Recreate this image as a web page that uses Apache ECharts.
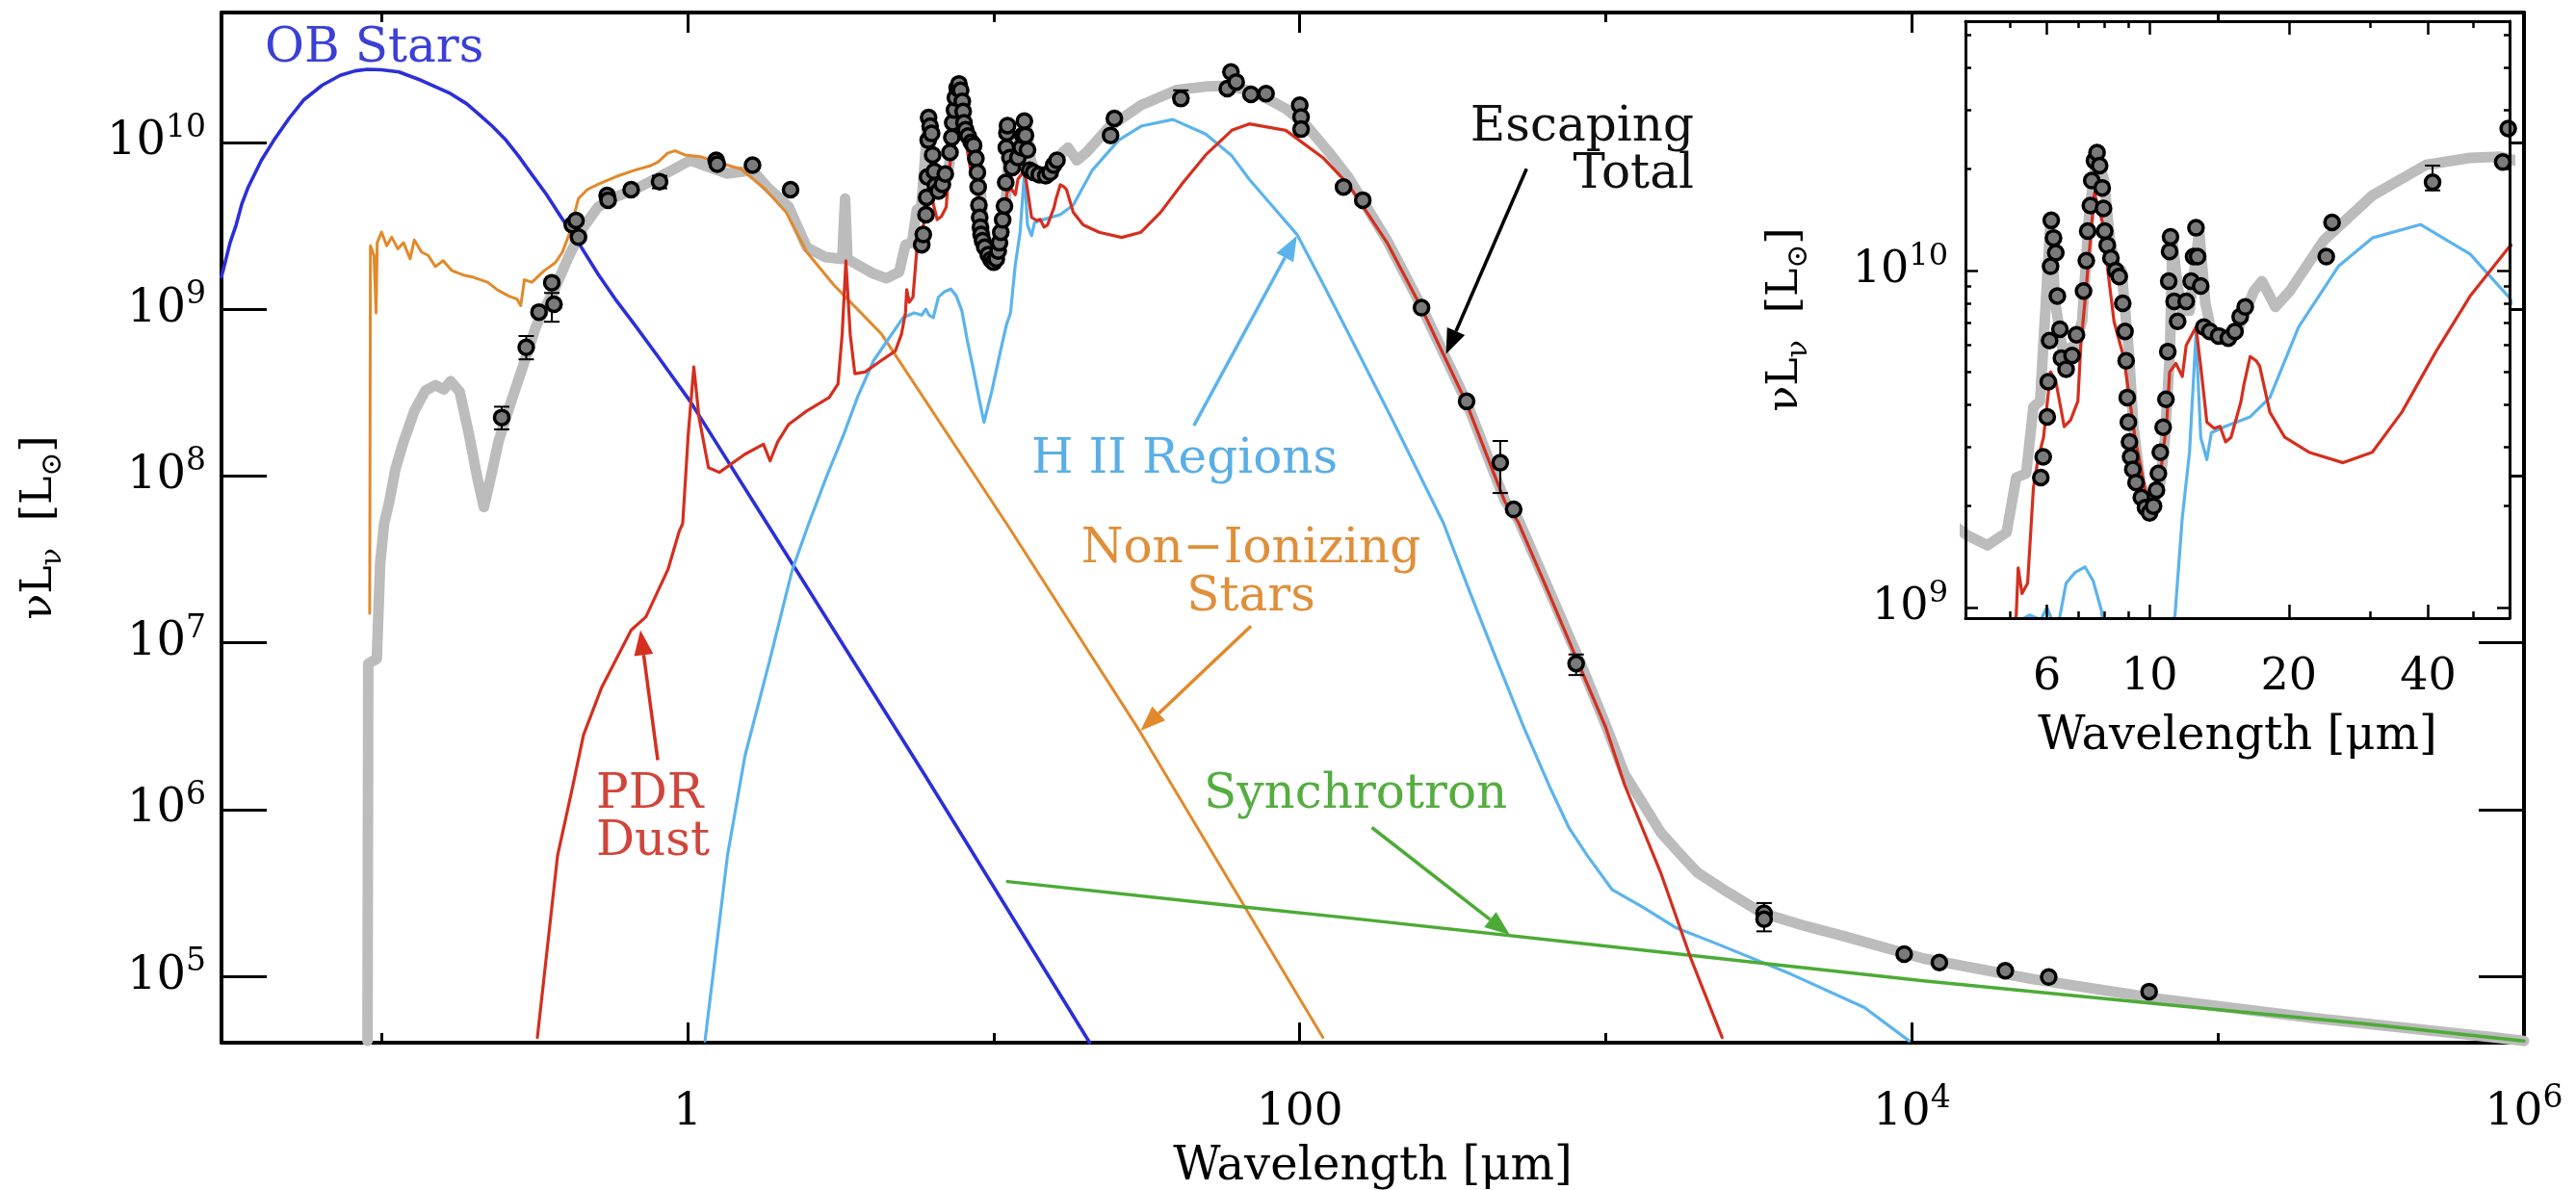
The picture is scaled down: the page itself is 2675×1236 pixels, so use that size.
<!DOCTYPE html>
<html>
<head>
<meta charset="utf-8">
<script src="https://cdn.jsdelivr.net/npm/echarts@6/dist/echarts.min.js"></script>
<style>
  html, body { margin: 0; padding: 0; background: #fff; }
  #chart { width: 2675px; height: 1236px; }
</style>
</head>
<body>
<div id="chart"></div>
<script>
// Spectral energy distribution: wavelength in micron, nu*L_nu in solar luminosities.

const obStars = [
  [0.030, 1.56e9], [0.032, 2.5e9], [0.0335, 3.2e9], [0.035, 4.3e9], [0.0367, 5.4e9],
  [0.0405, 7.8e9], [0.0445, 1.03e10], [0.050, 1.4e10], [0.0556, 1.79e10], [0.064, 2.2e10],
  [0.0733, 2.52e10], [0.082, 2.68e10], [0.090, 2.74e10], [0.100, 2.72e10], [0.114, 2.64e10],
  [0.135, 2.35e10], [0.150, 2.15e10], [0.168, 1.96e10], [0.19, 1.7e10], [0.21, 1.45e10],
  [0.23, 1.25e10], [0.255, 1.03e10], [0.28, 8.3e9], [0.31, 6.4e9], [0.345, 4.9e9],
  [0.386, 3.56e9], [0.44, 2.5e9], [0.51, 1.62e9], [0.58, 1.15e9], [0.67, 8.1e8],
  [0.80, 5.2e8], [1.02, 2.8e8], [1.866, 4.8e7], [5.97, 1.6e6], [20.6, 4.0e4]
];

const nonIonizing = [
  [0.0915, 1.5e7], [0.0920, 2.4e9], [0.0945, 2.1e9], [0.0960, 9.5e8], [0.0968, 2.5e9],
  [0.100, 2.9e9], [0.104, 2.4e9], [0.108, 2.7e9], [0.113, 2.3e9], [0.118, 2.5e9],
  [0.124, 2.0e9], [0.128, 2.6e9], [0.135, 2.2e9], [0.142, 2.1e9], [0.150, 1.8e9],
  [0.159, 1.95e9], [0.170, 1.7e9], [0.185, 1.6e9], [0.200, 1.55e9], [0.222, 1.45e9],
  [0.240, 1.3e9], [0.260, 1.2e9], [0.277, 1.15e9], [0.285, 1.05e9], [0.293, 1.5e9],
  [0.310, 1.45e9], [0.340, 1.7e9], [0.370, 1.9e9], [0.390, 2.2e9], [0.410, 2.8e9],
  [0.440, 4.6e9], [0.470, 5.2e9], [0.510, 5.6e9], [0.580, 6.2e9], [0.670, 6.8e9],
  [0.750, 7.2e9], [0.800, 7.6e9], [0.860, 8.6e9], [0.910, 8.9e9], [0.980, 8.4e9],
  [1.10, 8.2e9], [1.25, 7.6e9], [1.50, 6.9e9], [1.80, 5.2e9], [2.10, 3.8e9],
  [2.45, 2.2e9], [3.0, 1.4e9], [4.3, 7.1e8], [11.0, 5.2e7], [30.0, 2.95e6], [119, 4.3e4]
];

const escapingTotal = [
  [0.090, 4.1e4], [0.0905, 7.5e6], [0.0965, 8.0e6], [0.099, 3.0e7], [0.102, 5.2e7],
  [0.106, 7.0e7], [0.111, 1.1e8], [0.118, 1.6e8], [0.128, 2.45e8], [0.139, 3.24e8],
  [0.150, 3.5e8], [0.160, 3.3e8], [0.168, 3.7e8], [0.180, 3.2e8], [0.193, 1.78e8],
  [0.205, 1.0e8], [0.216, 6.5e7], [0.228, 1.0e8], [0.241, 1.6e8], [0.260, 2.5e8],
  [0.277, 3.55e8], [0.300, 5.5e8], [0.319, 7.8e8], [0.340, 1.0e9], [0.366, 1.29e9],
  [0.408, 2.05e9], [0.457, 3.1e9], [0.510, 4.1e9], [0.580, 4.7e9], [0.670, 5.2e9],
  [0.888, 6.8e9], [1.02, 7.8e9], [1.15, 7.2e9], [1.35, 6.5e9], [1.63, 6.8e9],
  [1.82, 5.4e9], [2.14, 4.1e9], [2.45, 2.35e9], [2.82, 2.05e9], [3.20, 2.0e9],
  [3.27, 4.6e9], [3.33, 2.0e9], [3.72, 1.78e9], [4.03, 1.64e9], [4.46, 1.53e9],
  [4.91, 1.67e9], [5.15, 2.43e9], [5.41, 2.5e9], [5.61, 3.94e9], [5.80, 4.1e9],
  [6.11, 1.41e10], [6.25, 8.1e9], [6.49, 5.75e9], [6.90, 6.0e9], [7.15, 7.1e9],
  [7.41, 1.5e10], [7.69, 2.2e10], [7.97, 1.86e10], [8.20, 1.25e10], [8.47, 1.0e10],
  [8.70, 1.0e10], [9.02, 5.75e9], [9.23, 3.44e9], [9.56, 2.35e9], [10.05, 1.91e9],
  [10.55, 2.35e9], [10.8, 3.2e9], [11.07, 5.75e9], [11.2, 1.23e10], [11.5, 9.0e9],
  [11.77, 7.6e9], [12.2, 7.6e9], [12.8, 1.31e10], [13.2, 8.0e9], [13.6, 6.6e9],
  [15.3, 6.4e9], [16.3, 7.8e9], [16.8, 8.7e9], [17.5, 9.3e9], [18.7, 7.8e9],
  [20.1, 8.7e9], [23.8, 1.23e10], [30.3, 1.67e10], [39.6, 2.06e10], [49.3, 2.16e10],
  [57, 2.18e10], [68.4, 2.05e10], [78.5, 1.82e10], [90, 1.59e10], [104, 1.29e10],
  [126, 8.5e9], [144, 6.2e9], [193, 2.58e9], [251, 1.02e9], [350, 2.8e8],
  [468, 7.1e7], [517, 5.5e7], [650, 2.1e7], [828, 7.5e6], [1000, 3.2e6],
  [1153, 1.62e6], [1300, 1.14e6], [1510, 7.3e5], [1750, 5.4e5], [1990, 4.2e5],
  [2500, 3.2e5], [3240, 2.4e5], [4500, 2.0e5], [6000, 1.74e5], [10900, 1.28e5],
  [25000, 9.6e4], [65200, 7.3e4], [2.1e5, 5.6e4], [8.0e5, 4.3e4], [1.0e6, 4.1e4]
];

const pdrDust = [
  [0.323, 4.3e4], [0.376, 5.3e5], [0.42, 1.34e6], [0.457, 2.8e6], [0.524, 5.4e6],
  [0.654, 1.19e7], [0.731, 1.43e7], [0.863, 2.75e7], [0.937, 4.6e7], [0.964, 5.2e7],
  [1.005, 1.78e8], [1.048, 4.5e8], [1.09, 2.24e8], [1.17, 1.12e8], [1.27, 1.05e8],
  [1.54, 1.35e8], [1.77, 1.55e8], [1.86, 1.23e8], [1.97, 1.6e8], [2.14, 2.04e8],
  [2.45, 2.45e8], [2.9, 2.95e8], [3.1, 3.55e8], [3.2, 7.1e8], [3.29, 1.95e9],
  [3.4, 7.0e8], [3.52, 4.1e8], [3.8, 4.2e8], [4.28, 4.9e8], [4.77, 5.6e8],
  [5.0, 7.1e8], [5.15, 9.5e8], [5.2, 1.31e9], [5.3, 1.1e9], [5.45, 1.18e9],
  [5.61, 2.27e9], [5.74, 2.76e9], [5.9, 3.2e9], [6.11, 5.0e9], [6.27, 4.7e9],
  [6.54, 3.44e9], [6.75, 3.6e9], [7.0, 4.1e9], [7.1, 5.96e9], [7.3, 9.0e9],
  [7.6, 1.7e10], [7.9, 1.4e10], [8.2, 9.0e9], [8.38, 7.06e9], [8.8, 5.5e9],
  [9.3, 3.2e9], [9.8, 2.2e9], [10.2, 2.12e9], [10.6, 2.6e9], [10.9, 3.6e9],
  [11.05, 5.0e9], [11.4, 5.3e9], [11.77, 4.85e9], [12.0, 6.0e9], [12.6, 6.8e9],
  [12.9, 5.2e9], [13.3, 3.55e9], [13.8, 3.4e9], [14.2, 3.45e9], [14.6, 3.1e9],
  [15.0, 3.2e9], [15.75, 4.07e9], [16.0, 4.6e9], [16.5, 5.56e9], [17.0, 5.4e9],
  [17.3, 5.2e9], [18.2, 3.8e9], [19.6, 3.2e9], [22.1, 2.89e9], [26.2, 2.69e9],
  [30.3, 2.89e9], [35.1, 3.8e9], [41.6, 5.75e9], [49.3, 8.4e9], [60, 1.18e10],
  [68.4, 1.29e10], [90, 1.18e10], [119, 8.1e9], [144, 5.6e9], [193, 2.5e9],
  [251, 1.0e9], [350, 2.75e8], [468, 7.0e7], [517, 5.3e7], [650, 2.0e7],
  [828, 7.0e6], [1000, 3.1e6], [1153, 1.4e6], [1510, 4.2e5], [1890, 1.3e5], [2400, 4.3e4]
];

const hiiRegions = [
  [1.14, 4.1e4], [1.35, 5.3e5], [1.54, 2.1e6], [1.86, 8.0e6], [2.2, 2.75e7],
  [2.49, 5.2e7], [2.85, 1.0e8], [3.24, 1.78e8], [3.6, 3.0e8], [4.05, 4.9e8],
  [4.5, 6.5e8], [5.06, 8.9e8], [5.5, 9.5e8], [5.82, 9.2e8], [6.0, 1.0e9],
  [6.15, 9.2e8], [6.35, 8.9e8], [6.6, 1.18e9], [6.9, 1.27e9], [7.25, 1.32e9],
  [7.55, 1.2e9], [7.87, 9.8e8], [8.2, 6.5e8], [8.55, 4.5e8], [9.0, 2.8e8],
  [9.3, 2.1e8], [9.85, 3.2e8], [10.5, 5.5e8], [11.0, 8.0e8], [11.35, 9.5e8],
  [11.77, 1.85e9], [12.2, 2.89e9], [12.6, 6.5e9], [12.9, 3.2e9], [13.3, 2.75e9],
  [13.6, 3.3e9], [14.6, 3.45e9], [16.5, 3.68e9], [18.2, 4.2e9], [21, 6.8e9],
  [25.6, 1.03e10], [30.3, 1.25e10], [38.5, 1.37e10], [49.3, 1.12e10], [60, 8.3e9],
  [68.4, 6.0e9], [80, 4.3e9], [98, 2.8e9], [120, 1.38e9], [144, 7.2e8],
  [200, 2.2e8], [295, 5.2e7], [360, 2.0e7], [433, 8.5e6], [540, 3.1e6],
  [659, 1.34e6], [760, 7.7e5], [870, 5.3e5], [1050, 3.3e5], [1320, 2.6e5],
  [1700, 1.95e5], [2300, 1.57e5], [4030, 1.03e5], [7000, 6.5e4], [9800, 4.1e4]
];

const synchrotron = [
  [11.1, 3.7e5], [66.5, 2.6e5], [144, 2.24e5], [1740, 1.36e5], [10900, 9.4e4],
  [65200, 6.8e4], [3.0e5, 5.2e4], [1.0e6, 4.1e4]
];

const observed = [
  [0.247, 2.24e8], [0.297, 5.9e8], [0.327, 9.6e8], [0.36, 1.44e9], [0.366, 1.07e9],
  [0.42, 3.2e9], [0.432, 3.4e9], [0.44, 2.7e9], [0.546, 4.8e9], [0.55, 4.5e9],
  [0.654, 5.2e9], [0.81, 5.8e9], [1.24, 7.8e9], [1.25, 7.4e9], [1.63, 7.3e9],
  [2.17, 5.2e9],
  [5.82, 2.43e9], [5.89, 2.8e9], [6.01, 3.68e9], [6.04, 4.68e9], [6.08, 6.2e9],
  [6.11, 1.03e10], [6.13, 1.41e10], [6.2, 1.25e10], [6.27, 1.13e10], [6.32, 8.4e9],
  [6.4, 6.7e9], [6.45, 5.5e9], [6.6, 5.1e9], [6.8, 5.6e9], [6.95, 6.45e9],
  [7.2, 8.7e9], [7.3, 1.07e10], [7.35, 1.31e10], [7.45, 1.56e10], [7.5, 1.85e10],
  [7.6, 2.12e10], [7.7, 2.24e10], [7.8, 2.05e10], [7.9, 1.76e10], [7.95, 1.53e10],
  [8.0, 1.31e10], [8.1, 1.19e10], [8.25, 1.09e10], [8.45, 1.0e10], [8.6, 9.6e9],
  [8.75, 8.0e9], [8.85, 6.6e9], [8.9, 5.4e9], [8.95, 4.2e9], [9.0, 3.55e9],
  [9.05, 3.1e9], [9.1, 2.8e9], [9.2, 2.57e9], [9.35, 2.35e9], [9.6, 2.12e9],
  [9.8, 1.98e9], [10.0, 1.91e9], [10.2, 2.0e9], [10.35, 2.23e9], [10.45, 2.5e9],
  [10.55, 2.89e9], [10.7, 3.43e9], [10.85, 4.15e9], [10.95, 5.75e9], [11.0, 9.3e9],
  [11.05, 1.14e10], [11.1, 1.26e10], [11.3, 8.1e9], [11.5, 7.07e9], [12.0, 8.1e9],
  [12.3, 9.3e9], [12.45, 1.1e10], [12.6, 1.34e10], [12.7, 1.1e10], [12.9, 9.0e9],
  [13.1, 6.8e9], [13.5, 6.6e9], [14.1, 6.4e9], [14.8, 6.3e9], [15.3, 6.6e9],
  [15.7, 7.3e9], [16.1, 7.8e9],
  [24.1, 1.1e10], [24.8, 1.39e10], [40.9, 1.83e10], [58, 2.1e10], [59.6, 2.64e10],
  [62, 2.3e10], [69.3, 1.94e10], [77.6, 1.96e10], [100, 1.67e10], [101, 1.42e10],
  [101, 1.2e10], [139, 5.4e9], [160.7, 4.5e9], [250, 1.02e9], [351, 2.8e8],
  [452, 1.2e8], [500, 6.3e7], [800, 7.5e6], [3290, 2.39e5], [3290, 2.2e5],
  [9440, 1.36e5], [12300, 1.21e5], [20200, 1.08e5], [28000, 9.9e4], [59600, 8.1e4]
];

// [wavelength, lower, upper]
const errorBars = [
  [0.247, 1.9e8, 2.6e8], [0.297, 5.0e8, 6.9e8], [0.36, 8.4e8, 1.25e9], [0.81, 5.3e9, 6.3e9],
  [40.9, 1.73e10, 2.05e10], [452, 7.9e7, 1.62e8], [800, 6.4e6, 8.5e6], [3290, 1.86e5, 2.75e5]
];

// Tick positions
const mainXMajor = [1, 100, 1e4, 1e6];
const mainXMinor = [0.1, 10, 1000, 1e5];
const mainYMajor = [1e5, 1e6, 1e7, 1e8, 1e9, 1e10];
const insetXMajor = [6, 10, 20, 40];
const insetXMinor = [5, 7, 8, 9, 30, 50];
const insetYMajor = [1e9, 1e10];
const insetYMinor = [2e9, 3e9, 4e9, 5e9, 6e9, 7e9, 8e9, 9e9, 2e10, 3e10, 4e10, 5e10];

const FONT = '"DejaVu Serif", "Liberation Serif", serif';

const COLORS = {
  ob: '#2b2fd8', orange: '#e1892b', red: '#d42f1f', hii: '#5bb3ec',
  green: '#4cab36', grey: '#bcbcbc'
};

function powLabel(v) {
  const e = Math.round(Math.log10(v));
  return '{b|10}{s|' + e + '}';
}

function tickRich(big, small) {
  return {
    b: { fontFamily: FONT, fontSize: big, lineHeight: big + 14, color: '#000' },
    s: { fontFamily: FONT, fontSize: small, lineHeight: small, verticalAlign: 'top', color: '#000' }
  };
}

function logAxis(o) {
  return {
    type: 'log', logBase: 10, gridIndex: o.grid, position: o.pos,
    min: o.min, max: o.max, z: o.z || 0,
    axisLine: { show: !!o.line, onZero: false, lineStyle: { color: '#000', width: o.lw || 4 } },
    axisTick: { show: true, inside: true, length: o.len, customValues: o.ticks,
                lineStyle: { color: '#000', width: o.tw || 3 } },
    axisLabel: o.labels
      ? { show: true, customValues: o.labels, formatter: o.fmt, margin: o.margin, rich: o.rich }
      : { show: false },
    splitLine: { show: false },
    minorTick: { show: false },
    minorSplitLine: { show: false },
    name: o.name || '',
    nameLocation: 'middle',
    nameGap: o.nameGap || 0,
    nameRotate: o.nameRotate || 0,
    nameTextStyle: o.nameStyle || {}
  };
}

const axisTitleStyle = { fontFamily: FONT, fontSize: 48, color: '#000' };
const yTitle = '{a|νL}{sub|ν}{a|  [L}{sub|⊙}{a|]}';
const yTitleStyle = {
  rich: {
    a: { fontFamily: FONT, fontSize: 44, lineHeight: 56, color: '#000' },
    sub: { fontFamily: FONT, fontSize: 30, lineHeight: 40, verticalAlign: 'bottom', color: '#000' }
  }
};

const mainGrid = { left: 230, right: 54, top: 13, bottom: 153 };
const insetBox = { x: 2041, y: 22, w: 565, h: 620 };

const xAxes = [
  // main chart, bottom
  logAxis({ grid: 0, pos: 'bottom', min: 0.03, max: 1e6, line: true, len: 21, ticks: mainXMajor,
    labels: mainXMajor, margin: 42, rich: tickRich(47, 33),
    fmt: v => (v < 1000 ? '{b|' + Math.round(v) + '}' : powLabel(v)),
    name: 'Wavelength [μm]', nameGap: 106, nameStyle: axisTitleStyle }),
  logAxis({ grid: 0, pos: 'bottom', min: 0.03, max: 1e6, len: 10, ticks: mainXMinor }),
  // main chart, top mirror
  logAxis({ grid: 0, pos: 'top', min: 0.03, max: 1e6, line: true, len: 21, ticks: mainXMajor }),
  logAxis({ grid: 0, pos: 'top', min: 0.03, max: 1e6, len: 10, ticks: mainXMinor }),
  // inset, bottom
  logAxis({ grid: 1, pos: 'bottom', min: 4, max: 60, line: true, lw: 3, tw: 2.5, len: 14, z: 60,
    ticks: insetXMajor, labels: insetXMajor, margin: 32, rich: tickRich(46, 32),
    fmt: v => '{b|' + Math.round(v) + '}',
    name: 'Wavelength [μm]', nameGap: 100, nameStyle: axisTitleStyle }),
  logAxis({ grid: 1, pos: 'bottom', min: 4, max: 60, len: 7, tw: 2.5, z: 60, ticks: insetXMinor }),
  // inset, top mirror
  logAxis({ grid: 1, pos: 'top', min: 4, max: 60, line: true, lw: 3, tw: 2.5, len: 14, z: 60, ticks: insetXMajor }),
  logAxis({ grid: 1, pos: 'top', min: 4, max: 60, len: 7, tw: 2.5, z: 60, ticks: insetXMinor })
];

const yAxes = [
  // main chart
  logAxis({ grid: 0, pos: 'left', min: 4e4, max: 6e10, line: true, len: 47, ticks: mainYMajor,
    labels: mainYMajor, margin: 16, rich: tickRich(48, 33), fmt: powLabel,
    name: yTitle, nameGap: 160, nameRotate: 90, nameStyle: yTitleStyle }),
  logAxis({ grid: 0, pos: 'right', min: 4e4, max: 6e10, line: true, len: 47, ticks: mainYMajor }),
  // inset
  logAxis({ grid: 1, pos: 'left', min: 9.3e8, max: 5.5e10, line: true, lw: 3, tw: 2.5, len: 13, z: 60,
    ticks: insetYMajor, labels: insetYMajor, margin: 18, rich: tickRich(46, 32), fmt: powLabel,
    name: yTitle, nameGap: 158, nameRotate: 90, nameStyle: yTitleStyle }),
  logAxis({ grid: 1, pos: 'left', min: 9.3e8, max: 5.5e10, len: 6, tw: 2.5, z: 60, ticks: insetYMinor }),
  logAxis({ grid: 1, pos: 'right', min: 9.3e8, max: 5.5e10, line: true, lw: 3, tw: 2.5, len: 13, z: 60, ticks: insetYMajor }),
  logAxis({ grid: 1, pos: 'right', min: 9.3e8, max: 5.5e10, len: 6, tw: 2.5, z: 60, ticks: insetYMinor })
];

function lineSeries(name, data, color, width, xi, yi, z) {
  return {
    name, type: 'line', data, xAxisIndex: xi, yAxisIndex: yi, z,
    showSymbol: false, symbol: 'none', clip: true, silent: true,
    lineStyle: { color, width, join: 'round', cap: 'round' }
  };
}

function pointSeries(xi, yi, z) {
  return {
    type: 'scatter', data: observed, xAxisIndex: xi, yAxisIndex: yi, z, clip: true, silent: true,
    symbol: 'circle', symbolSize: 15,
    itemStyle: { color: '#7a7a7a', borderColor: '#000', borderWidth: 3.5, opacity: 1 }
  };
}

function errorSeries(xi, yi, z) {
  return {
    type: 'custom', data: errorBars, xAxisIndex: xi, yAxisIndex: yi, z, clip: true, silent: true,
    renderItem: (params, api) => {
      const lo = api.coord([api.value(0), api.value(1)]);
      const hi = api.coord([api.value(0), api.value(2)]);
      const cap = 8;
      const st = { stroke: '#000', lineWidth: 2 };
      return {
        type: 'group',
        children: [
          { type: 'line', shape: { x1: lo[0], y1: lo[1], x2: hi[0], y2: hi[1] }, style: st },
          { type: 'line', shape: { x1: lo[0] - cap, y1: lo[1], x2: lo[0] + cap, y2: lo[1] }, style: st },
          { type: 'line', shape: { x1: hi[0] - cap, y1: hi[1], x2: hi[0] + cap, y2: hi[1] }, style: st }
        ]
      };
    }
  };
}

// Annotation arrow from a label towards its curve, in data coordinates.
function arrowSeries(from, to, color) {
  return {
    type: 'custom', xAxisIndex: 0, yAxisIndex: 0, z: 8, silent: true, clip: false,
    data: [[from[0], from[1], to[0], to[1]]],
    renderItem: (params, api) => {
      const p1 = api.coord([api.value(0), api.value(1)]);
      const p2 = api.coord([api.value(2), api.value(3)]);
      const dx = p2[0] - p1[0], dy = p2[1] - p1[1];
      const len = Math.sqrt(dx * dx + dy * dy);
      const ux = dx / len, uy = dy / len;
      const headL = 26, headW = 10;
      const bx = p2[0] - ux * headL, by = p2[1] - uy * headL;
      return {
        type: 'group',
        children: [
          { type: 'line', shape: { x1: p1[0], y1: p1[1], x2: bx, y2: by },
            style: { stroke: color, lineWidth: 3.5 } },
          { type: 'polygon',
            shape: { points: [[p2[0], p2[1]], [bx - uy * headW, by + ux * headW], [bx + uy * headW, by - ux * headW]] },
            style: { fill: color } }
        ]
      };
    }
  };
}

function label(text, x, y, color, align) {
  return {
    type: 'text', x, y, z: 100, silent: true,
    style: { text, fill: color, font: '50px ' + FONT, align: align || 'left', verticalAlign: 'middle' }
  };
}

const option = {
  animation: false,
  backgroundColor: '#fff',
  grid: [
    Object.assign({ outerBoundsMode: 'none', containLabel: false }, mainGrid),
    { left: insetBox.x, top: insetBox.y, width: insetBox.w, height: insetBox.h, z: 55,
      outerBoundsMode: 'none', containLabel: false }
  ],
  xAxis: xAxes,
  yAxis: yAxes,
  graphic: [
    { type: 'rect', shape: { x: insetBox.x, y: insetBox.y, width: insetBox.w, height: insetBox.h },
      style: { fill: '#fff' }, z: 50, silent: true },
    label('OB Stars', 275, 51, '#3a40d6'),
    label('Escaping', 1759, 133, '#111', 'right'),
    label('Total', 1759, 182, '#111', 'right'),
    label('H II Regions', 1071, 478, '#5aaee6'),
    label('Non−Ionizing', 1299, 571, '#df8f3a', 'center'),
    label('Stars', 1299, 621, '#df8f3a', 'center'),
    label('Synchrotron', 1250, 826, '#55ad40'),
    label('PDR', 619, 826, '#d0453a'),
    label('Dust', 619, 875, '#d0453a')
  ],
  series: [
    // main panel
    lineSeries('Escaping Total', escapingTotal, COLORS.grey, 11, 0, 0, 2),
    lineSeries('OB Stars', obStars, COLORS.ob, 3.6, 0, 0, 3),
    lineSeries('Non-Ionizing Stars', nonIonizing, COLORS.orange, 3, 0, 0, 3),
    lineSeries('H II Regions', hiiRegions, COLORS.hii, 3.2, 0, 0, 3),
    lineSeries('PDR Dust', pdrDust, COLORS.red, 3.2, 0, 0, 4),
    lineSeries('Synchrotron', synchrotron, COLORS.green, 3.5, 0, 0, 3),
    errorSeries(0, 0, 5),
    pointSeries(0, 0, 6),
    arrowSeries([551, 6.95e9], [300.6, 5.37e8], '#000'),
    arrowSeries([45.1, 2.0e8], [97.9, 2.76e9], COLORS.hii),
    arrowSeries([69.3, 1.26e7], [30.2, 2.97e6], COLORS.orange),
    arrowSeries([172, 7.8e5], [486, 1.77e5], COLORS.green),
    arrowSeries([0.799, 1.98e6], [0.701, 1.19e7], COLORS.red),
    // inset panel
    lineSeries('Escaping Total', escapingTotal, COLORS.grey, 11, 4, 2, 56),
    lineSeries('H II Regions', hiiRegions, COLORS.hii, 3.2, 4, 2, 57),
    lineSeries('PDR Dust', pdrDust, COLORS.red, 3.2, 4, 2, 58),
    errorSeries(4, 2, 59),
    pointSeries(4, 2, 59)
  ]
};

const chart = echarts.init(document.getElementById('chart'), null, { renderer: 'canvas' });
chart.setOption(option);
</script>
</body>
</html>
